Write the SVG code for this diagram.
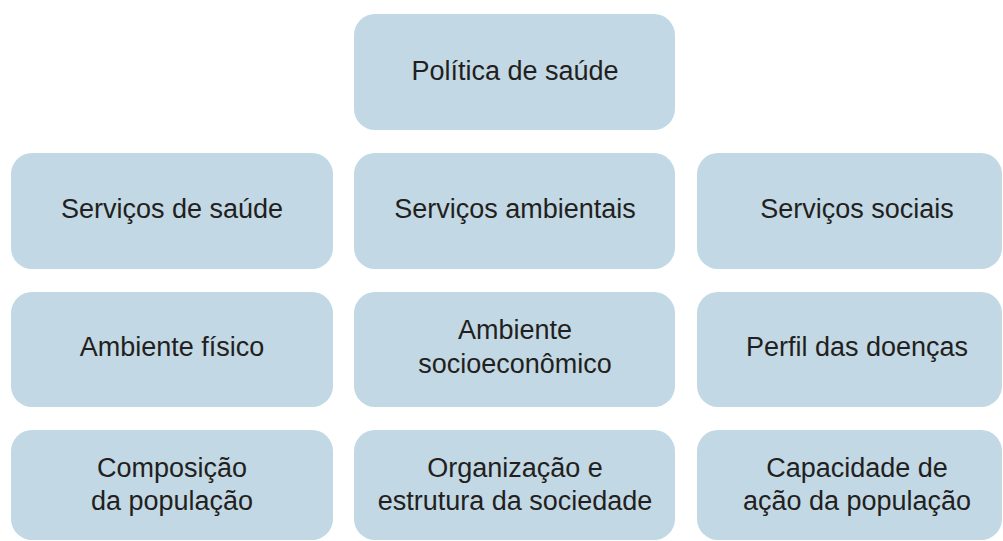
<svg xmlns="http://www.w3.org/2000/svg" width="1003" height="541" viewBox="0 0 1003 541">
<style>
.b{fill:#c2d8e4}
.t{font-family:"Liberation Sans",Arial,sans-serif;font-size:27px;fill:#231f20;text-anchor:middle}
</style>
<rect width="1003" height="541" fill="#ffffff"/>
<g id="connectors"></g>
<g id="n0"><rect class="b" x="354" y="14" width="321" height="116" rx="21"/><text class="t" x="515" y="80">Política de saúde</text></g>
<g id="n1"><rect class="b" x="11" y="153" width="322" height="116" rx="21"/><text class="t" x="172" y="218">Serviços de saúde</text></g>
<g id="n2"><rect class="b" x="354" y="153" width="321" height="116" rx="21"/><text class="t" x="515" y="218">Serviços ambientais</text></g>
<g id="n3"><rect class="b" x="697" y="153" width="305" height="116" rx="21"/><text class="t" x="857" y="218">Serviços sociais</text></g>
<g id="n4"><rect class="b" x="11" y="292" width="322" height="115" rx="21"/><text class="t" x="172" y="356">Ambiente físico</text></g>
<g id="n5"><rect class="b" x="354" y="292" width="321" height="115" rx="21"/><text class="t" x="515" y="339">Ambiente</text><text class="t" x="515" y="372.5">socioeconômico</text></g>
<g id="n6"><rect class="b" x="697" y="292" width="305" height="115" rx="21"/><text class="t" x="857" y="356">Perfil das doenças</text></g>
<g id="n7"><rect class="b" x="11" y="430" width="322" height="110" rx="21"/><text class="t" x="172" y="477">Composição</text><text class="t" x="172" y="510">da população</text></g>
<g id="n8"><rect class="b" x="354" y="430" width="321" height="110" rx="21"/><text class="t" x="515" y="477">Organização e</text><text class="t" x="515" y="510">estrutura da sociedade</text></g>
<g id="n9"><rect class="b" x="697" y="430" width="305" height="110" rx="21"/><text class="t" x="857" y="477">Capacidade de</text><text class="t" x="857" y="510">ação da população</text></g>
</svg>
